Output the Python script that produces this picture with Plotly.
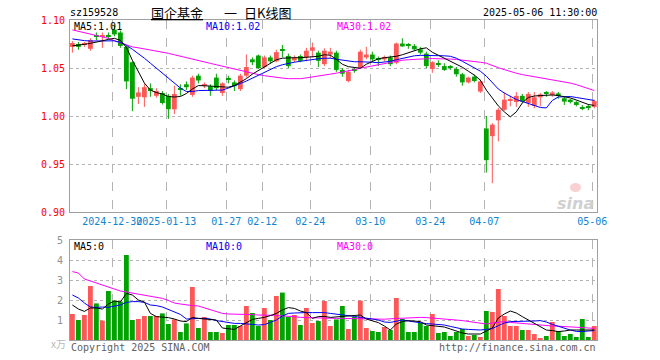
import plotly.graph_objects as go

# ---------------- data ----------------
tick_labels = ["2024-12-30", "2025-01-13", "01-27", "02-12", "02-24",
               "03-10", "03-24", "04-07", "05-06"]
tick_index = [7, 16, 26, 32, 40, 50, 60, 69, 87]

open_ = [1.072, 1.075, 1.074, 1.070, 1.0835, 1.083, 1.0835, 1.090, 1.087, 1.072,
         1.056, 1.020, 1.0195, 1.029, 1.021, 1.024, 1.021, 1.007, 1.029, 1.033,
         1.022, 1.042, 1.032, 1.031, 1.040, 1.024, 1.039, 1.035, 1.028, 1.042,
         1.059, 1.063, 1.051, 1.061, 1.057, 1.0685, 1.0625, 1.058, 1.0625, 1.061,
         1.068, 1.066, 1.054, 1.064, 1.066, 1.048, 1.0365, 1.0475, 1.0505, 1.061,
         1.064, 1.0595, 1.059, 1.061, 1.0555, 1.0755, 1.0735, 1.073, 1.0695, 1.065,
         1.049, 1.0545, 1.052, 1.0505, 1.049, 1.0435, 1.035, 1.041, 1.0255, 0.987,
         0.979, 0.9955, 1.0065, 1.0165, 1.0145, 1.021, 1.0135, 1.0105, 1.0195, 1.0235,
         1.022, 1.0235, 1.0185, 1.017, 1.0145, 1.0085, 1.009, 1.0095]
high = [1.078, 1.077, 1.077, 1.081, 1.087, 1.087, 1.087, 1.095, 1.089, 1.073,
        1.057, 1.030, 1.0335, 1.034, 1.029, 1.026, 1.023, 1.0315, 1.033, 1.036,
        1.042, 1.044, 1.035, 1.033, 1.044, 1.035, 1.042, 1.037, 1.044, 1.064,
        1.061, 1.064, 1.063, 1.063, 1.069, 1.074, 1.065, 1.063, 1.064, 1.071,
        1.0765, 1.068, 1.0705, 1.071, 1.068, 1.050, 1.048, 1.050, 1.069, 1.072,
        1.067, 1.062, 1.063, 1.063, 1.0765, 1.081, 1.076, 1.075, 1.072, 1.067,
        1.057, 1.058, 1.055, 1.053, 1.051, 1.045, 1.041, 1.043, 1.038, 1.000,
        0.9925, 1.0085, 1.0245, 1.021, 1.025, 1.023, 1.025, 1.025, 1.024, 1.026,
        1.026, 1.025, 1.020, 1.018, 1.016, 1.0115, 1.012, 1.017]
low = [1.066, 1.069, 1.072, 1.068, 1.079, 1.071, 1.080, 1.083, 1.071, 1.028,
       1.005, 1.0125, 1.0095, 1.020, 1.019, 1.012, 0.997, 1.002, 1.021, 1.027,
       1.020, 1.034, 1.029, 1.021, 1.027, 1.021, 1.034, 1.026, 1.026, 1.040,
       1.053, 1.049, 1.050, 1.055, 1.056, 1.061, 1.050, 1.056, 1.056, 1.057,
       1.061, 1.051, 1.052, 1.060, 1.046, 1.041, 1.035, 1.045, 1.049, 1.059,
       1.057, 1.052, 1.057, 1.052, 1.054, 1.072, 1.070, 1.068, 1.064, 1.050,
       1.045, 1.051, 1.047, 1.048, 1.041, 1.0315, 1.034, 1.035, 1.024, 0.941,
       0.930, 0.9735, 1.0055, 1.010, 1.0095, 1.014, 1.0095, 1.008, 1.010, 1.020,
       1.020, 1.018, 1.0115, 1.013, 1.010, 1.006, 1.006, 1.008]
close = [1.076, 1.072, 1.075, 1.079, 1.083, 1.0835, 1.083, 1.085, 1.073, 1.036,
         1.018, 1.0245, 1.030, 1.026, 1.026, 1.0135, 1.007, 1.023, 1.028, 1.030,
         1.040, 1.037, 1.0325, 1.026, 1.029, 1.034, 1.038, 1.031, 1.042, 1.051,
         1.056, 1.050, 1.061, 1.057, 1.0665, 1.068, 1.052, 1.061, 1.0575, 1.068,
         1.0715, 1.0575, 1.068, 1.067, 1.048, 1.044, 1.046, 1.047, 1.067, 1.064,
         1.059, 1.059, 1.0615, 1.054, 1.0755, 1.0725, 1.073, 1.0695, 1.066, 1.052,
         1.056, 1.054, 1.048, 1.050, 1.0435, 1.035, 1.040, 1.0365, 1.036, 0.954,
         0.991, 1.0065, 1.017, 1.017, 1.021, 1.015, 1.023, 1.0195, 1.0225, 1.023,
         1.0245, 1.021, 1.015, 1.0145, 1.0115, 1.008, 1.0085, 1.0155]
# volume in 万 (10k)
volume = [1.3, 1.0, 1.25, 2.7, 1.83, 0.97, 2.45, 1.97, 1.92, 4.25,
          1.0, 1.05, 1.2, 1.2, 1.2, 1.33, 0.8, 1.03, 0.4, 0.83,
          2.65, 0.6, 1.15, 0.4, 0.4, 0.35, 0.75, 0.75, 0.7, 1.7,
          1.35, 0.7, 1.6, 1.0, 2.2, 2.37, 1.15, 1.25, 0.75, 1.6,
          0.85, 0.95, 1.95, 0.7, 1.03, 1.7, 0.55, 1.15, 1.97, 0.6,
          0.45, 0.4, 0.65, 0.5, 2.1, 1.05, 0.4, 0.4, 0.85, 0.7,
          1.3, 0.35, 0.4, 0.2, 0.4, 0.55, 0.2, 0.25, 0.15, 1.45,
          1.4, 2.55, 1.2, 0.7, 0.7, 0.5, 0.5, 0.3, 0.1, 0.2,
          0.9, 0.45, 0.2, 0.3, 0.15, 1.05, 0.15, 0.7]

ma5 = [1.0731, 1.0736, 1.0746, 1.0757, 1.0767, 1.0783, 1.0798, 1.0809, 1.0788, 1.0715,
       1.0581, 1.0457, 1.0343, 1.027, 1.0244, 1.0229, 1.0203, 1.0198, 1.0203, 1.0234,
       1.0281, 1.0317, 1.0317, 1.0312, 1.0307, 1.0305, 1.030, 1.0317, 1.0353, 1.0389,
       1.0436, 1.0472, 1.0508, 1.055, 1.0586, 1.0602, 1.0607, 1.0607, 1.0607, 1.0612,
       1.0617, 1.0622, 1.0638, 1.0633, 1.0591, 1.0539, 1.0514, 1.0503, 1.0498, 1.0539,
       1.057, 1.0596, 1.0607, 1.0612, 1.0622, 1.0638, 1.0658, 1.0679, 1.070, 1.071,
       1.0664, 1.0633, 1.0601, 1.057, 1.0545, 1.0508, 1.0467, 1.0426, 1.0374, 1.027,
       1.0188, 1.0105, 1.0043, 0.9991, 1.0043, 1.0136, 1.0193, 1.0208, 1.0213, 1.0219,
       1.0219, 1.0213, 1.0203, 1.0188, 1.0167, 1.0141, 1.012, 1.011]
ma10 = [1.0803, 1.0793, 1.0785, 1.0781, 1.0781, 1.0783, 1.0786, 1.0783, 1.0767, 1.0736,
        1.0695, 1.0653, 1.0602, 1.055, 1.0498, 1.0446, 1.0395, 1.0343, 1.0291, 1.0255,
        1.0255, 1.0265, 1.0265, 1.0265, 1.0265, 1.027, 1.0291, 1.0312, 1.0338, 1.0364,
        1.0395, 1.0426, 1.0457, 1.0488, 1.0514, 1.0534, 1.055, 1.056, 1.057, 1.0581,
        1.0591, 1.0596, 1.0602, 1.0602, 1.0591, 1.0581, 1.057, 1.0565, 1.0565, 1.0565,
        1.056, 1.0555, 1.056, 1.057, 1.0586, 1.0602, 1.0617, 1.0627, 1.0632, 1.0632,
        1.0632, 1.0632, 1.0627, 1.0622, 1.0602, 1.057, 1.0534, 1.0503, 1.0467, 1.0415,
        1.0353, 1.0281, 1.0239, 1.0203, 1.0172, 1.0151, 1.0131, 1.011, 1.0089, 1.0084,
        1.0162, 1.0198, 1.0203, 1.0203, 1.0193, 1.0182, 1.0172, 1.0162]
ma30 = [1.0897, 1.0883, 1.087, 1.0855, 1.084, 1.0824, 1.0809, 1.0783, 1.0762, 1.0741,
        1.072, 1.071, 1.070, 1.069, 1.0679, 1.0666, 1.0653, 1.0638, 1.0622, 1.0607,
        1.0591, 1.0576, 1.056, 1.0548, 1.0534, 1.0519, 1.0501, 1.0488, 1.0472, 1.0457,
        1.0441, 1.0431, 1.042, 1.041, 1.0402, 1.0395, 1.0389, 1.0387, 1.0389, 1.0397,
        1.0405, 1.0415, 1.0426, 1.0436, 1.0446, 1.0457, 1.0472, 1.0483, 1.0498, 1.051,
        1.0524, 1.0537, 1.055, 1.056, 1.057, 1.0581, 1.0586, 1.0591, 1.0594, 1.0596,
        1.0598, 1.0598, 1.0596, 1.0593, 1.0589, 1.0583, 1.0576, 1.057, 1.056, 1.055,
        1.0524, 1.0503, 1.0483, 1.0462, 1.0446, 1.0431, 1.042, 1.041, 1.040, 1.0389,
        1.0379, 1.0369, 1.0358, 1.0343, 1.0327, 1.0307, 1.0286, 1.0265]

vma5 = [1.75, 1.55, 1.43, 1.6, 1.6, 1.55, 1.8, 1.95, 1.9, 2.33,
        2.25, 2.0, 1.9, 1.33, 1.17, 1.15, 1.12, 1.05, 0.95, 0.92,
        1.13, 1.08, 1.06, 1.05, 1.0, 0.6, 0.55, 0.53, 0.7, 0.85,
        1.03, 1.08, 1.13, 1.22, 1.33, 1.5, 1.62, 1.58, 1.45, 1.37,
        1.08, 1.17, 1.18, 1.13, 1.15, 1.2, 1.2, 1.22, 1.25, 1.05,
        0.95, 0.87, 0.7, 0.5, 0.8, 0.92, 0.97, 0.95, 0.92, 0.75,
        0.72, 0.7, 0.65, 0.55, 0.45, 0.35, 0.3, 0.3, 0.3, 0.45,
        0.6, 1.1, 1.3, 1.45, 1.35, 1.17, 1.0, 0.83, 0.65, 0.5,
        0.47, 0.42, 0.45, 0.5, 0.5, 0.5, 0.5, 0.5]
vma10 = [2.25, 2.1, 1.85, 1.65, 1.63, 1.65, 1.63, 1.7, 1.75, 1.88,
         1.92, 1.92, 1.88, 1.75, 1.72, 1.65, 1.52, 1.4, 1.28, 1.05,
         1.08, 1.08, 1.08, 1.05, 0.97, 0.92, 0.87, 0.83, 0.83, 0.82,
         0.78, 0.75, 0.77, 0.88, 1.0, 1.2, 1.33, 1.35, 1.37, 1.37,
         1.37, 1.37, 1.37, 1.33, 1.3, 1.27, 1.22, 1.18, 1.13, 1.1,
         1.05, 1.0, 0.9, 0.88, 0.95, 1.0, 0.95, 0.9, 0.87, 0.82,
         0.8, 0.77, 0.75, 0.68, 0.6, 0.55, 0.53, 0.52, 0.5, 0.53,
         0.57, 0.72, 0.85, 0.92, 0.92, 0.92, 0.93, 0.95, 0.97, 0.9,
         0.78, 0.68, 0.58, 0.5, 0.43, 0.42, 0.45, 0.47]
vma30 = [3.42, 3.35, 3.05, 2.95, 2.85, 2.75, 2.65, 2.55, 2.45, 2.4,
         2.35, 2.3, 2.22, 2.17, 2.12, 2.08, 1.98, 1.85, 1.8, 1.75,
         1.72, 1.7, 1.6, 1.5, 1.42, 1.33, 1.3, 1.3, 1.3, 1.3,
         1.27, 1.25, 1.25, 1.25, 1.23, 1.2, 1.2, 1.17, 1.13, 1.12,
         1.1, 1.08, 1.08, 1.08, 1.08, 1.08, 1.07, 1.06, 1.05, 1.04,
         1.03, 1.03, 1.04, 1.06, 1.08, 1.1, 1.12, 1.13, 1.13, 1.12,
         1.1, 1.08, 1.07, 1.03, 1.0, 0.97, 0.93, 0.88, 0.83, 0.8,
         0.85, 0.9, 0.92, 0.88, 0.85, 0.83, 0.8, 0.77, 0.74, 0.72,
         0.7, 0.69, 0.68, 0.67, 0.65, 0.62, 0.6, 0.58]

price_ticks = [0.90, 0.95, 1.00, 1.05, 1.10]
vol_ticks = [1, 2, 3, 4, 5]

# ---------------- styling ----------------
RED = "#ff5757"
GREEN = "#00a300"
MONO = "DejaVu Sans Mono"
CJK = "Noto Sans CJK SC"
W, H = 660, 360
ML, MR, MT, MB = 70, 63, 20, 20
PW, PH = W - ML - MR, H - MT - MB

n = len(close)
idx = list(range(n))
is_up = [c >= o for o, c in zip(open_, close)]
colors = [RED if u else GREEN for u in is_up]
body_base = [min(o, c) for o, c in zip(open_, close)]
body_h = [max(abs(c - o), 0.0011) for o, c in zip(open_, close)]

fig = go.Figure()

# wicks
for col, flag in ((RED, True), (GREEN, False)):
    wx, wy = [], []
    for i in idx:
        if is_up[i] == flag:
            wx += [i, i, None]
            wy += [low[i], high[i], None]
    fig.add_trace(go.Scatter(x=wx, y=wy, mode="lines",
                             line=dict(color=col, width=1), hoverinfo="skip",
                             xaxis="x", yaxis="y"))

# bodies
fig.add_trace(go.Bar(x=idx, y=body_h, base=body_base, width=0.8,
                     marker=dict(color=colors, line=dict(width=0)),
                     xaxis="x", yaxis="y"))

# price MAs
for s, c in ((ma30, "#ff00ff"), (ma10, "#0000ff"), (ma5, "#000000")):
    fig.add_trace(go.Scatter(x=idx, y=s, mode="lines",
                             line=dict(color=c, width=1), xaxis="x", yaxis="y"))

# volume
fig.add_trace(go.Bar(x=idx, y=volume, width=0.8,
                     marker=dict(color=colors, line=dict(width=0)),
                     xaxis="x2", yaxis="y2"))
for s, c in ((vma30, "#ff00ff"), (vma10, "#0000ff"), (vma5, "#000000")):
    fig.add_trace(go.Scatter(x=idx, y=s, mode="lines",
                             line=dict(color=c, width=1), xaxis="x2", yaxis="y2"))

grid_x = [t - 0.35 for t in tick_index]
xcommon = dict(range=[-0.4, 87.45], showline=True, mirror=True,
               linecolor="#a0a0a0", linewidth=1, zeroline=False,
               showgrid=True, gridcolor="#b4b4b4", griddash="dash", gridwidth=1,
               tickvals=grid_x, ticks="", tickangle=0, fixedrange=True)

fig.update_layout(
    width=W, height=H, margin=dict(l=ML, r=MR, t=MT, b=MB),
    paper_bgcolor="white", plot_bgcolor="white", showlegend=False,
    barmode="overlay",
    xaxis=dict(domain=[0, 1], anchor="y", ticktext=tick_labels,
               tickfont=dict(family=MONO, size=10, color="#1084d0"),
               **xcommon),
    yaxis=dict(domain=[(H - MB - 212) / PH, 1], anchor="x", range=[0.90, 1.10],
               tickvals=price_ticks, ticktext=[f"{v:.2f}" for v in price_ticks],
               tickfont=dict(family=MONO, size=10, color="#ff0000"),
               showline=True, mirror=True, linecolor="#a0a0a0", linewidth=1,
               showgrid=True, gridcolor="#b4b4b4", griddash="dot", gridwidth=1,
               zeroline=False, ticks="", ticklabelstandoff=2),
    xaxis2=dict(domain=[0, 1], anchor="y2", showticklabels=False, **xcommon),
    yaxis2=dict(domain=[0, (H - MB - 240) / PH], anchor="x2", range=[0, 5],
                tickvals=vol_ticks, ticktext=[str(v) for v in vol_ticks],
                tickfont=dict(family=MONO, size=10, color="#909090"),
                showline=True, mirror=True, linecolor="#a0a0a0", linewidth=1,
                showgrid=True, gridcolor="#b4b4b4", griddash="dot", gridwidth=1,
                zeroline=False, ticks="", ticklabelstandoff=4),
)


def px(x):
    return (x - ML) / PW


def py(y):
    return (H - MB - y) / PH


def label(text, x, y, color="#000", size=10, family=MONO, anchor="left", **fkw):
    fig.add_annotation(text=text, x=px(x), y=py(y), xref="paper", yref="paper",
                       xanchor=anchor, yanchor="middle", showarrow=False,
                       font=dict(family=family, size=size, color=color, **fkw))


# header
label("sz159528", 68, 13)
label("国企基金", 149, 12, size=13, family=CJK, lineposition="under")
label("一", 222, 12, size=13, family=CJK)
label("日K线图", 242, 12, size=13, family=CJK)
label("2025-05-06 11:30:00", 599, 13, anchor="right")

# MA legends
label(f"MA5:{ma5[-1]:.2f}", 72, 27)
label(f"MA10:{ma10[-1]:.2f}", 204, 27, color="#0000ff")
label("MA30:1.02", 335, 27, color="#ff00ff")
label("MA5:0", 72, 246)
label("MA10:0", 204, 246, color="#0000ff")
label("MA30:0", 335, 246, color="#ff00ff")

# footer
label("Copyright 2025 SINA.COM", 69, 347, color="#606060")
label("http://finance.sina.com.cn", 598, 347, color="#606060", anchor="right")
label("x万", 49, 343, color="#b8b8b8", size=10, family=CJK)

# watermark (sina logo)
label("sina", 596, 203, color="#d0d0d0", size=16, family="DejaVu Sans",
      anchor="right", weight="bold", style="italic")
fig.add_shape(type="circle", xref="paper", yref="paper",
              x0=px(570), x1=px(581), y0=py(192), y1=py(183),
              fillcolor="#f8d0d0", line=dict(width=0), layer="below")

fig.write_html("out.html")
